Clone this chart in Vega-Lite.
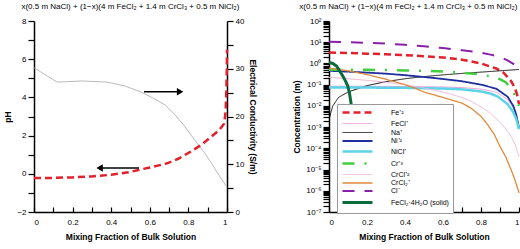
{
  "$schema": "https://vega.github.io/schema/vega-lite/v6.json",
  "padding": {"left": 3, "top": 3, "right": 0, "bottom": 2},
  "spacing": 35,
  "background": "white",
  "config": {
    "font": "Liberation Sans",
    "view": {"stroke": null},
    "axis": {"domainColor": "black", "domainWidth": 1.5, "tickColor": "black", "tickWidth": 1.2, "labelFont": "Liberation Sans", "labelFontSize": 8, "labelColor": "black", "titleFont": "Liberation Sans", "titleFontSize": 8.5, "titleFontWeight": "bold", "titleColor": "black", "grid": false, "labelOverlap": false},
    "title": {"font": "Liberation Sans", "fontSize": 8, "fontWeight": "normal", "color": "black", "anchor": "middle", "frame": "bounds", "offset": 6}
  },
  "datasets": {
    "ph": [
      {"x": 0, "ph": 5.55}, {"x": 0.12, "ph": 4.8}, {"x": 0.25, "ph": 4.86}, {"x": 0.38, "ph": 4.8}, {"x": 0.47, "ph": 4.6},
      {"x": 0.55, "ph": 4.3}, {"x": 0.62, "ph": 3.95}, {"x": 0.68, "ph": 3.6}, {"x": 0.73, "ph": 3.1}, {"x": 0.78, "ph": 2.5},
      {"x": 0.83, "ph": 1.8}, {"x": 0.88, "ph": 1.15}, {"x": 0.92, "ph": 0.55}, {"x": 0.95, "ph": 0.05}, {"x": 1, "ph": -0.7}
    ],
    "cond": [
      {"x": 0, "c": 7.1}, {"x": 0.1, "c": 7.15}, {"x": 0.2, "c": 7.25}, {"x": 0.3, "c": 7.45}, {"x": 0.4, "c": 7.8},
      {"x": 0.5, "c": 8.4}, {"x": 0.55, "c": 8.9}, {"x": 0.6, "c": 9.3}, {"x": 0.69, "c": 10.2}, {"x": 0.75, "c": 11.2},
      {"x": 0.81, "c": 12.6}, {"x": 0.865, "c": 14.0}, {"x": 0.92, "c": 15.8}, {"x": 0.96, "c": 17.2}, {"x": 0.985, "c": 18.5},
      {"x": 0.993, "c": 21}, {"x": 0.997, "c": 26}, {"x": 0.999, "c": 30}, {"x": 1, "c": 34}
    ],
    "arrows": [
      {"x1": 0.57, "x2": 0.757, "y": 4.3, "h": "r"},
      {"x1": 0.544, "x2": 0.34, "y": 0.3, "h": "l"}
    ],
    "conc": [
      {"s": "Fe⁺²", "x": 0, "c": 3.3}, {"s": "Fe⁺²", "x": 0.1, "c": 3.1}, {"s": "Fe⁺²", "x": 0.2, "c": 2.9}, {"s": "Fe⁺²", "x": 0.3, "c": 2.7}, {"s": "Fe⁺²", "x": 0.4, "c": 2.45}, {"s": "Fe⁺²", "x": 0.5, "c": 2.2}, {"s": "Fe⁺²", "x": 0.6, "c": 1.9}, {"s": "Fe⁺²", "x": 0.7, "c": 1.5}, {"s": "Fe⁺²", "x": 0.8, "c": 1.0}, {"s": "Fe⁺²", "x": 0.88, "c": 0.58}, {"s": "Fe⁺²", "x": 0.92, "c": 0.36}, {"s": "Fe⁺²", "x": 0.96, "c": 0.14}, {"s": "Fe⁺²", "x": 0.98, "c": 0.065}, {"s": "Fe⁺²", "x": 0.99, "c": 0.033}, {"s": "Fe⁺²", "x": 1, "c": 0.012},
      {"s": "FeCl⁺", "x": 0, "c": 0.085}, {"s": "FeCl⁺", "x": 0.2, "c": 0.084}, {"s": "FeCl⁺", "x": 0.4, "c": 0.082}, {"s": "FeCl⁺", "x": 0.6, "c": 0.078}, {"s": "FeCl⁺", "x": 0.7, "c": 0.073}, {"s": "FeCl⁺", "x": 0.8, "c": 0.062}, {"s": "FeCl⁺", "x": 0.88, "c": 0.045}, {"s": "FeCl⁺", "x": 0.94, "c": 0.02}, {"s": "FeCl⁺", "x": 0.97, "c": 0.008}, {"s": "FeCl⁺", "x": 0.99, "c": 0.003}, {"s": "FeCl⁺", "x": 1, "c": 0.001},
      {"s": "Na⁺", "x": 0.004, "c": 0.003}, {"s": "Na⁺", "x": 0.01, "c": 0.005}, {"s": "Na⁺", "x": 0.02, "c": 0.01}, {"s": "Na⁺", "x": 0.05, "c": 0.025}, {"s": "Na⁺", "x": 0.1, "c": 0.045}, {"s": "Na⁺", "x": 0.2, "c": 0.09}, {"s": "Na⁺", "x": 0.3, "c": 0.14}, {"s": "Na⁺", "x": 0.4, "c": 0.19}, {"s": "Na⁺", "x": 0.5, "c": 0.24}, {"s": "Na⁺", "x": 0.6, "c": 0.29}, {"s": "Na⁺", "x": 0.7, "c": 0.34}, {"s": "Na⁺", "x": 0.8, "c": 0.39}, {"s": "Na⁺", "x": 0.9, "c": 0.45}, {"s": "Na⁺", "x": 1, "c": 0.52},
      {"s": "Ni⁺²", "x": 0, "c": 0.45}, {"s": "Ni⁺²", "x": 0.1, "c": 0.41}, {"s": "Ni⁺²", "x": 0.2, "c": 0.37}, {"s": "Ni⁺²", "x": 0.3, "c": 0.33}, {"s": "Ni⁺²", "x": 0.4, "c": 0.28}, {"s": "Ni⁺²", "x": 0.5, "c": 0.23}, {"s": "Ni⁺²", "x": 0.6, "c": 0.185}, {"s": "Ni⁺²", "x": 0.7, "c": 0.145}, {"s": "Ni⁺²", "x": 0.8, "c": 0.1}, {"s": "Ni⁺²", "x": 0.88, "c": 0.065}, {"s": "Ni⁺²", "x": 0.94, "c": 0.027}, {"s": "Ni⁺²", "x": 0.97, "c": 0.01}, {"s": "Ni⁺²", "x": 0.985, "c": 0.004}, {"s": "Ni⁺²", "x": 1, "c": 0.0009},
      {"s": "NiCl⁺", "x": 0, "c": 0.074}, {"s": "NiCl⁺", "x": 0.2, "c": 0.073}, {"s": "NiCl⁺", "x": 0.4, "c": 0.071}, {"s": "NiCl⁺", "x": 0.6, "c": 0.066}, {"s": "NiCl⁺", "x": 0.7, "c": 0.06}, {"s": "NiCl⁺", "x": 0.8, "c": 0.048}, {"s": "NiCl⁺", "x": 0.85, "c": 0.038}, {"s": "NiCl⁺", "x": 0.89, "c": 0.027}, {"s": "NiCl⁺", "x": 0.94, "c": 0.012}, {"s": "NiCl⁺", "x": 0.97, "c": 0.005}, {"s": "NiCl⁺", "x": 0.985, "c": 0.0025}, {"s": "NiCl⁺", "x": 1, "c": 0.0008},
      {"s": "Cr⁺³", "x": 0, "c": 0.5}, {"s": "Cr⁺³", "x": 0.1, "c": 0.5}, {"s": "Cr⁺³", "x": 0.2, "c": 0.5}, {"s": "Cr⁺³", "x": 0.3, "c": 0.49}, {"s": "Cr⁺³", "x": 0.4, "c": 0.47}, {"s": "Cr⁺³", "x": 0.5, "c": 0.45}, {"s": "Cr⁺³", "x": 0.6, "c": 0.42}, {"s": "Cr⁺³", "x": 0.7, "c": 0.37}, {"s": "Cr⁺³", "x": 0.8, "c": 0.3}, {"s": "Cr⁺³", "x": 0.88, "c": 0.22}, {"s": "Cr⁺³", "x": 0.93, "c": 0.13}, {"s": "Cr⁺³", "x": 0.96, "c": 0.065}, {"s": "Cr⁺³", "x": 0.98, "c": 0.03}, {"s": "Cr⁺³", "x": 1, "c": 0.01},
      {"s": "CrCl⁺²", "x": 0, "c": 0.22}, {"s": "CrCl⁺²", "x": 0.1, "c": 0.19}, {"s": "CrCl⁺²", "x": 0.2, "c": 0.16}, {"s": "CrCl⁺²", "x": 0.3, "c": 0.13}, {"s": "CrCl⁺²", "x": 0.4, "c": 0.1}, {"s": "CrCl⁺²", "x": 0.5, "c": 0.07}, {"s": "CrCl⁺²", "x": 0.6, "c": 0.045}, {"s": "CrCl⁺²", "x": 0.7, "c": 0.025}, {"s": "CrCl⁺²", "x": 0.75, "c": 0.016}, {"s": "CrCl⁺²", "x": 0.8, "c": 0.009}, {"s": "CrCl⁺²", "x": 0.85, "c": 0.0045}, {"s": "CrCl⁺²", "x": 0.9, "c": 0.0017}, {"s": "CrCl⁺²", "x": 0.95, "c": 0.0005}, {"s": "CrCl⁺²", "x": 0.98, "c": 0.00015}, {"s": "CrCl⁺²", "x": 1, "c": 0.00004},
      {"s": "CrCl₂⁺", "x": 0, "c": 0.6}, {"s": "CrCl₂⁺", "x": 0.1, "c": 0.45}, {"s": "CrCl₂⁺", "x": 0.2, "c": 0.3}, {"s": "CrCl₂⁺", "x": 0.3, "c": 0.18}, {"s": "CrCl₂⁺", "x": 0.4, "c": 0.1}, {"s": "CrCl₂⁺", "x": 0.45, "c": 0.07}, {"s": "CrCl₂⁺", "x": 0.5, "c": 0.045}, {"s": "CrCl₂⁺", "x": 0.6, "c": 0.025}, {"s": "CrCl₂⁺", "x": 0.7, "c": 0.0135}, {"s": "CrCl₂⁺", "x": 0.75, "c": 0.0075}, {"s": "CrCl₂⁺", "x": 0.8, "c": 0.0032}, {"s": "CrCl₂⁺", "x": 0.835, "c": 0.0013}, {"s": "CrCl₂⁺", "x": 0.87, "c": 0.00045}, {"s": "CrCl₂⁺", "x": 0.9, "c": 0.00012}, {"s": "CrCl₂⁺", "x": 0.93, "c": 0.00004}, {"s": "CrCl₂⁺", "x": 0.96, "c": 0.000009}, {"s": "CrCl₂⁺", "x": 0.98, "c": 0.000003}, {"s": "CrCl₂⁺", "x": 1, "c": 0.0000008},
      {"s": "Cl⁻", "x": 0, "c": 10.5}, {"s": "Cl⁻", "x": 0.1, "c": 10}, {"s": "Cl⁻", "x": 0.2, "c": 9.4}, {"s": "Cl⁻", "x": 0.3, "c": 8.6}, {"s": "Cl⁻", "x": 0.4, "c": 7.6}, {"s": "Cl⁻", "x": 0.5, "c": 6.5}, {"s": "Cl⁻", "x": 0.6, "c": 5.3}, {"s": "Cl⁻", "x": 0.7, "c": 4.2}, {"s": "Cl⁻", "x": 0.8, "c": 3.2}, {"s": "Cl⁻", "x": 0.85, "c": 2.6}, {"s": "Cl⁻", "x": 0.9, "c": 2}, {"s": "Cl⁻", "x": 0.94, "c": 1.4}, {"s": "Cl⁻", "x": 0.97, "c": 0.95}, {"s": "Cl⁻", "x": 1, "c": 0.55},
      {"s": "FeCl₂·4H₂O (solid)", "x": 0, "c": 1.1}, {"s": "FeCl₂·4H₂O (solid)", "x": 0.02, "c": 1.0}, {"s": "FeCl₂·4H₂O (solid)", "x": 0.04, "c": 0.75}, {"s": "FeCl₂·4H₂O (solid)", "x": 0.055, "c": 0.46}, {"s": "FeCl₂·4H₂O (solid)", "x": 0.07, "c": 0.28}, {"s": "FeCl₂·4H₂O (solid)", "x": 0.085, "c": 0.16}, {"s": "FeCl₂·4H₂O (solid)", "x": 0.098, "c": 0.09}, {"s": "FeCl₂·4H₂O (solid)", "x": 0.108, "c": 0.04}, {"s": "FeCl₂·4H₂O (solid)", "x": 0.115, "c": 0.015}, {"s": "FeCl₂·4H₂O (solid)", "x": 0.12, "c": 0.008}
    ]
  },
  "resolve": {"legend": {"color": "independent", "strokeDash": "independent", "strokeWidth": "independent", "shape": "independent"}},
  "hconcat": [
    {
      "width": 193,
      "height": 191,
      "title": {"text": "x(0.5 m NaCl) + (1−x)(4 m FeCl₂ + 1.4 m CrCl₃ + 0.5 m NiCl₂)"},
      "layer": [
        {
          "data": {"name": "ph"},
          "mark": {"type": "line", "color": "#a8a8a8", "strokeWidth": 0.8},
          "encoding": {
            "x": {"field": "x", "type": "quantitative", "scale": {"domain": [0, 1], "nice": false},
              "axis": {"values": [0, 0.1, 0.2, 0.3, 0.4, 0.5, 0.6, 0.7, 0.8, 0.9, 1], "labelExpr": "round(datum.value*10)%2==0 ? format(datum.value, '~g') : ''", "tickSize": -5, "labelPadding": 11, "title": "Mixing Fraction of Bulk Solution", "titlePadding": 6}},
            "y": {"field": "ph", "type": "quantitative", "scale": {"domain": [-2, 8], "nice": false},
              "axis": {"orient": "left", "title": "pH", "values": [-2, -1, 0, 1, 2, 3, 4, 5, 6, 7, 8], "labelExpr": "datum.value%2==0 ? datum.label : ''", "tickSize": 6, "labelPadding": 2, "titlePadding": 4}}
          }
        },
        {
          "data": {"name": "cond"},
          "mark": {"type": "line", "color": "#e3202b", "strokeWidth": 2.5, "strokeDash": [7, 4]},
          "encoding": {
            "x": {"field": "x", "type": "quantitative", "scale": {"domain": [0, 1], "nice": false},
              "axis": {"values": [0, 0.1, 0.2, 0.3, 0.4, 0.5, 0.6, 0.7, 0.8, 0.9, 1], "labelExpr": "round(datum.value*10)%2==0 ? format(datum.value, '~g') : ''", "tickSize": -5, "labelPadding": 11, "title": "Mixing Fraction of Bulk Solution", "titlePadding": 6}},
            "y": {"field": "c", "type": "quantitative", "scale": {"domain": [0, 40], "nice": false},
              "axis": {"orient": "right", "title": "Electrical Conductivity (S/m)", "values": [0, 5, 10, 15, 20, 25, 30, 35, 40], "labelExpr": "datum.value%10==0 ? datum.label : ''", "tickSize": 6, "labelPadding": 2, "titlePadding": 4}}
          }
        },
        {
          "data": {"name": "arrows"},
          "mark": {"type": "rule", "color": "black", "strokeWidth": 1.5},
          "encoding": {
            "x": {"field": "x1", "type": "quantitative", "scale": {"domain": [0, 1], "nice": false},
              "axis": {"values": [0, 0.1, 0.2, 0.3, 0.4, 0.5, 0.6, 0.7, 0.8, 0.9, 1], "labelExpr": "round(datum.value*10)%2==0 ? format(datum.value, '~g') : ''", "tickSize": -5, "labelPadding": 11, "title": "Mixing Fraction of Bulk Solution", "titlePadding": 6}},
            "x2": {"field": "x2"},
            "y": {"field": "y", "type": "quantitative", "scale": {"domain": [-2, 8], "nice": false}, "axis": null}
          }
        },
        {
          "data": {"name": "arrows"},
          "mark": {"type": "point", "filled": true, "color": "black", "size": 55, "opacity": 1},
          "encoding": {
            "x": {"field": "x2", "type": "quantitative", "scale": {"domain": [0, 1], "nice": false},
              "axis": {"values": [0, 0.1, 0.2, 0.3, 0.4, 0.5, 0.6, 0.7, 0.8, 0.9, 1], "labelExpr": "round(datum.value*10)%2==0 ? format(datum.value, '~g') : ''", "tickSize": -5, "labelPadding": 11, "title": "Mixing Fraction of Bulk Solution", "titlePadding": 6}},
            "y": {"field": "y", "type": "quantitative", "scale": {"domain": [-2, 8], "nice": false}, "axis": null},
            "shape": {"field": "h", "type": "nominal", "scale": {"domain": ["r", "l"], "range": ["triangle-right", "triangle-left"]}, "legend": null}
          }
        }
      ],
      "resolve": {"scale": {"y": "independent"}}
    },
    {
      "width": 190,
      "height": 191,
      "title": {"text": "x(0.5 m NaCl) + (1−x)(4 m FeCl₂ + 1.4 m CrCl₃ + 0.5 m NiCl₂)"},
      "data": {"name": "conc"},
      "mark": {"type": "line"},
      "encoding": {
        "x": {"field": "x", "type": "quantitative", "scale": {"domain": [0, 1], "nice": false},
          "axis": {"values": [0, 0.1, 0.2, 0.3, 0.4, 0.5, 0.6, 0.7, 0.8, 0.9, 1], "labelExpr": "round(datum.value*10)%2==0 ? format(datum.value, '~g') : ''", "tickSize": -5, "labelPadding": 11, "title": "Mixing Fraction of Bulk Solution", "titlePadding": 6}},
        "y": {"field": "c", "type": "quantitative", "scale": {"type": "log", "domain": [1e-7, 100], "nice": false},
          "axis": {"title": "Concentration (m)", "tickSize": 6, "labelPadding": 2, "titlePadding": 4,
            "values": [1e-7, 2e-7, 3e-7, 4e-7, 5e-7, 6e-7, 7e-7, 8e-7, 9e-7, 1e-6, 2e-6, 3e-6, 4e-6, 5e-6, 6e-6, 7e-6, 8e-6, 9e-6, 1e-5, 2e-5, 3e-5, 4e-5, 5e-5, 6e-5, 7e-5, 8e-5, 9e-5, 1e-4, 2e-4, 3e-4, 4e-4, 5e-4, 6e-4, 7e-4, 8e-4, 9e-4, 0.001, 0.002, 0.003, 0.004, 0.005, 0.006, 0.007, 0.008, 0.009, 0.01, 0.02, 0.03, 0.04, 0.05, 0.06, 0.07, 0.08, 0.09, 0.1, 0.2, 0.3, 0.4, 0.5, 0.6, 0.7, 0.8, 0.9, 1, 2, 3, 4, 5, 6, 7, 8, 9, 10, 20, 30, 40, 50, 60, 70, 80, 90, 100],
            "labelExpr": "abs(log(datum.value)/LN10 - round(log(datum.value)/LN10)) < 0.01 ? '10' + ['⁻⁷','⁻⁶','⁻⁵','⁻⁴','⁻³','⁻²','⁻¹','⁰','¹','²'][round(log(datum.value)/LN10)+7] : ''"}},
        "color": {"field": "s", "type": "nominal",
          "scale": {"domain": ["Fe⁺²", "FeCl⁺", "Na⁺", "Ni⁺²", "NiCl⁺", "Cr⁺³", "CrCl⁺²", "CrCl₂⁺", "Cl⁻", "FeCl₂·4H₂O (solid)"],
            "range": ["#e3202b", "#e9a3dc", "#111111", "#1f2f9f", "#5cd3e6", "#3fcf3f", "#f3b6d6", "#e08a3c", "#8b20a8", "#0b6b3a"]},
          "legend": {"orient": "none", "legendX": 8, "legendY": 83, "title": null, "symbolType": "M-5,0H5", "symbolSize": 36, "symbolOffset": 12, "labelOffset": 29, "labelFontSize": 7, "labelFont": "Liberation Sans", "labelColor": "black", "rowPadding": 1, "padding": 4, "strokeColor": "#999999", "fillColor": "white", "labelLimit": 200}},
        "strokeDash": {"field": "s", "type": "nominal",
          "scale": {"domain": ["Fe⁺²", "FeCl⁺", "Na⁺", "Ni⁺²", "NiCl⁺", "Cr⁺³", "CrCl⁺²", "CrCl₂⁺", "Cl⁻", "FeCl₂·4H₂O (solid)"],
            "range": [[7, 4], [1, 0], [1, 0], [1, 0], [1, 0], [12, 10, 2, 10], [1, 0], [1, 0], [12, 10], [1, 0]]}},
        "strokeWidth": {"field": "s", "type": "nominal",
          "scale": {"type": "ordinal", "domain": ["Fe⁺²", "FeCl⁺", "Na⁺", "Ni⁺²", "NiCl⁺", "Cr⁺³", "CrCl⁺²", "CrCl₂⁺", "Cl⁻", "FeCl₂·4H₂O (solid)"],
            "range": [2.5, 1, 1, 1.8, 2.5, 2.5, 1, 1.3, 2, 3]}}
      }
    }
  ]
}
